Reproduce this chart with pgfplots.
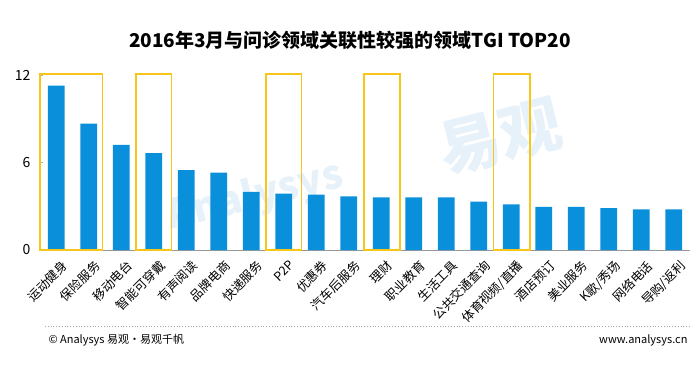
\documentclass[border=0pt]{standalone}
\usepackage{fontspec}
\setmainfont{Noto Sans CJK SC}
\usepackage{pgfplots}
\pgfplotsset{compat=1.18}
\definecolor{barblue}{RGB}{10,143,219}
\definecolor{boxyellow}{RGB}{247,198,24}
\definecolor{wm}{RGB}{230,241,250}
\begin{document}
\begin{tikzpicture}[x=1pt,y=1pt]
\path[use as bounding box,fill=white] (0,0) rectangle (700,372);
% watermark
\node[text=wm,font=\bfseries\fontsize{62}{64}\selectfont,rotate=14] at (500,235) {易观};
\node[text=wm,font=\bfseries\itshape\fontsize{40}{42}\selectfont,rotate=14] at (255,175) {Analysys};
\node[font=\bfseries\fontsize{19}{22}\selectfont] at (350,332) {2016年3月与问诊领域关联性较强的领域TGI TOP20};
\begin{axis}[
  at={(40pt,122pt)}, anchor=south west,
  width=650pt, height=175pt, scale only axis,
  xmin=-0.5, xmax=19.5, ymin=0, ymax=12,
  clip=false,
  ybar, bar width=0.52,
  axis x line*=bottom, axis y line*=left,
  y axis line style={draw=none},
  x axis line style={draw=gray!80, line width=0.8pt, -},
  xtick=data,
  xticklabels={运动健身,保险服务,移动电台,智能可穿戴,有声阅读,品牌电商,快递服务,P2P,优惠券,汽车后服务,理财,职业教育,生活工具,公共交通查询,体育视频/直播,酒店预订,美业服务,K歌/秀场,网络电话,导购/返利},
  xticklabel style={rotate=45, anchor=north east, font=\fontsize{12.5}{14}\selectfont, inner sep=1pt, yshift=-7pt, xshift=0pt},
  major x tick style={draw=none},
  ytick={0,6,12},
  yticklabel style={font=\fontsize{14}{16}\selectfont, xshift=-6pt},
  /pgf/number format/assume math mode=true,
  major y tick style={draw=gray!60},
  major tick length=3pt,
]
\addplot[fill=barblue, draw=none] coordinates {
(0,11.27) (1,8.66) (2,7.2) (3,6.65) (4,5.47) (5,5.3) (6,3.98) (7,3.86) (8,3.79) (9,3.68)
(10,3.61) (11,3.61) (12,3.61) (13,3.32) (14,3.13) (15,2.95) (16,2.95) (17,2.88) (18,2.79) (19,2.79)};
\draw[boxyellow, line width=1.6pt] (axis cs:-0.5,0) rectangle (axis cs:1.42,12.06);
\draw[boxyellow, line width=1.6pt] (axis cs:2.45,0) rectangle (axis cs:3.55,12.06);
\draw[boxyellow, line width=1.6pt] (axis cs:6.45,0) rectangle (axis cs:7.55,12.06);
\draw[boxyellow, line width=1.6pt] (axis cs:9.47,0) rectangle (axis cs:10.57,12.06);
\draw[boxyellow, line width=1.6pt] (axis cs:13.45,0) rectangle (axis cs:14.58,12.06);
\end{axis}
\draw[gray!70, dotted, line width=0.8pt] (45,46) -- (690,46);
\node[anchor=west, font=\fontsize{11}{13}\selectfont] at (45,32) {© Analysys 易观·易观千帆};
\node[anchor=east, font=\fontsize{11}{13}\selectfont] at (691,32) {www.analysys.cn};
\end{tikzpicture}
\end{document}
